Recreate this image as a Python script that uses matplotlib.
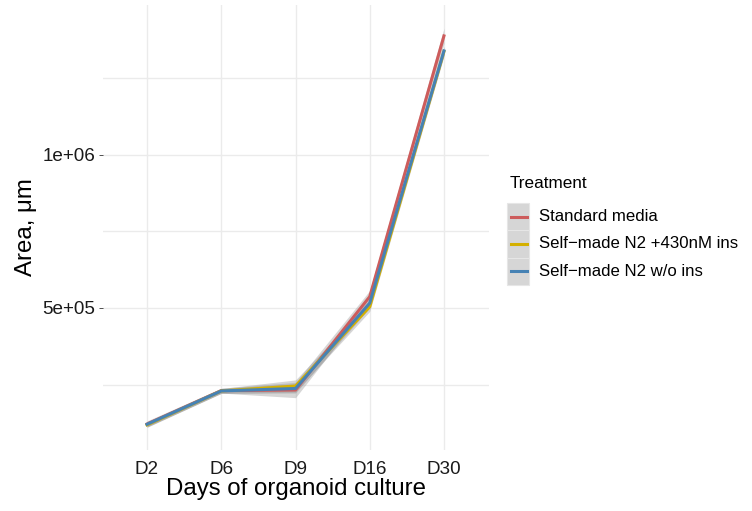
"""organoid area growth by treatment"""
import matplotlib
matplotlib.use("Agg")
import matplotlib.pyplot as plt
from matplotlib.patches import Rectangle
from matplotlib.lines import Line2D

plt.rcParams['font.family'] = ['Liberation Sans', 'DejaVu Sans']

days = ["D2", "D6", "D9", "D16", "D30"]
treatments = ["Standard media", "Self\u2212made N2 +430nM ins", "Self\u2212made N2 w/o ins"]
colors = ["#CD5C5C", "#D4B000", "#4682B4"]

standard = [121000, 230000, 232000, 537000, 1389000]
n2_ins = [118000, 229000, 245000, 504000, 1338000]
n2_no_ins = [120000, 229000, 237000, 516000, 1340000]

standard_se = [10000, 8000, 25000, 20000, 25000]
n2_ins_se = [8000, 8000, 20000, 15000, 15000]
n2_no_ins_se = [8000, 8000, 15000, 15000, 15000]

means = [standard, n2_ins, n2_no_ins]
errors = [standard_se, n2_ins_se, n2_no_ins_se]

W, H = 752, 511
fig = plt.figure(figsize=(W / 100, H / 100), dpi=100)
ax = fig.add_axes([102.5 / W, 1 - 450 / H, 386 / W, 445 / H])

x = list(range(len(days)))
for m, e in zip(means, errors):
    lo = [a - b for a, b in zip(m, e)]
    hi = [a + b for a, b in zip(m, e)]
    ax.fill_between(x, lo, hi, color="#999999", alpha=0.4, linewidth=0, zorder=2)
for m, c in zip(means, colors):
    ax.plot(x, m, color=c, linewidth=2.2, zorder=3)

ax.set_xlim(-0.6, 4.6)
ax.set_ylim(36000, 1490000)
ax.set_xticks(x)
ax.set_xticklabels(days)
ax.set_yticks([500000, 1000000])
ax.set_yticklabels(["5e+05", "1e+06"])
ax.set_yticks([250000, 750000, 1250000], minor=True)
ax.grid(True, which="both", color="#EBEBEB", linewidth=1.0, zorder=0)
ax.set_axisbelow(True)
for s in ax.spines.values():
    s.set_visible(False)
ax.tick_params(axis="x", length=0, labelsize=13.6, labelcolor="#1A1A1A", pad=8)
ax.tick_params(axis="y", which="major", length=3, width=0.6, color="#333333",
               labelsize=13.6, labelcolor="#1A1A1A", pad=2)
ax.tick_params(axis="y", which="minor", length=0)
ax.set_xlabel("Days of organoid culture", fontsize=17.3, labelpad=0)
ax.set_ylabel("Area, \u03bcm", fontsize=17.3, labelpad=4)

# legend drawn by hand to get the ggplot style keys
def fx(px):
    return px / W

def fy(py):
    return 1 - py / H

fig.text(fx(510), fy(183), "Treatment", fontsize=12.3, va="center", ha="left")
key_top = 203
key_h = 27.3
for i, (lab, c) in enumerate(zip(treatments, colors)):
    top = key_top + i * key_h
    fig.add_artist(Rectangle((fx(507.5), fy(top + key_h)), 21.5 / W, key_h / H,
                             transform=fig.transFigure, facecolor="#D6D6D6",
                             edgecolor="#E6E6E6", linewidth=0.8))
    yc = top + key_h / 2
    fig.add_artist(Line2D([fx(511), fx(526.5)], [fy(yc), fy(yc)],
                          transform=fig.transFigure, color=c, linewidth=2.2))
    fig.text(fx(539), fy(yc), lab, fontsize=12.1, va="center", ha="left")

fig.savefig("out.png", dpi=100)
